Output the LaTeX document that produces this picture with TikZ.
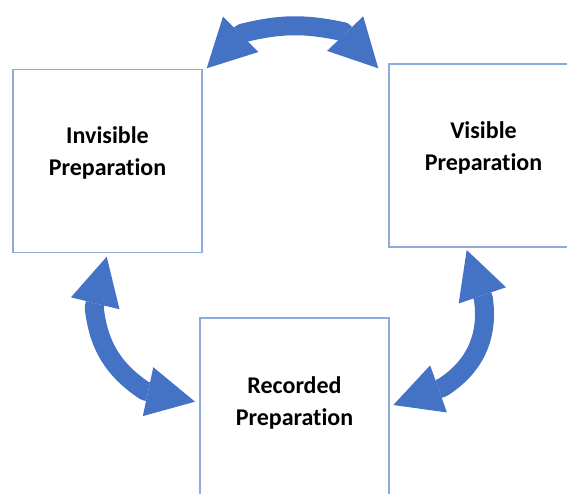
\documentclass[tikz,border=0pt]{standalone}
\usepackage{fontspec}
\setmainfont{Carlito}[Ligatures=NoCommon]
\usetikzlibrary{arrows.meta, positioning}

\definecolor{boxline}{RGB}{143,170,220}
\definecolor{arrowblue}{RGB}{68,114,196}

\tikzset{
  prepbox/.style={draw=boxline, line width=1.2pt, minimum width=189pt, minimum height=183pt, inner sep=0pt},
  preptext/.style={font=\fontsize{24}{32}\selectfont\bfseries, align=center},
  cyclearrow/.style={draw=arrowblue, line width=19pt, line join=round,
    {Triangle[length=48pt, width=50pt, line width=0pt]}-{Triangle[length=48pt, width=50pt, line width=0pt]}},
}

\begin{document}
\begin{tikzpicture}[x=1pt, y=1pt]
	\useasboundingbox (0,0) rectangle (567,493);
	
	% Boxes
	\node[prepbox] (inv) at (107.5,332) {};
	\node[prepbox] (vis) at (483.5,337.5) {};
	\node[prepbox, minimum height=185pt] (rec) at (294.5,82.5) {};
	
	% Labels
	\node[preptext] (inv-text) at ([yshift=8pt]inv.center) {Invisible\\Preparation};
	\node[preptext] (vis-text) at ([yshift=8pt]vis.center) {Visible\\Preparation};
	\node[preptext] (rec-text) at ([yshift=8pt]rec.center) {Recorded\\Preparation};
	
	% Arrow tips and shaft ends
	\coordinate (top-l) at (206.7,424.7);
	\coordinate (top-lb) at (241.7,459.7);
	\coordinate (top-rb) at (343.3,461.3);
	\coordinate (top-r) at (378.3,424.7);
	\coordinate (left-t) at (106.7,236.3);
	\coordinate (left-tb) at (94.2,185.5);
	\coordinate (left-bb) at (145,102);
	\coordinate (left-b) at (195,91.3);
	\coordinate (right-t) at (466.7,243);
	\coordinate (right-tb) at (483.3,194.7);
	\coordinate (right-bb) at (442.5,105.5);
	\coordinate (right-b) at (393.3,88);
	
	% Arrows
	\draw[cyclearrow] (top-l) -- (top-lb) to[bend left=13] (top-rb) -- (top-r);
	\draw[cyclearrow] (left-t) -- (left-tb) to[bend right=25] (left-bb) -- (left-b);
	\draw[cyclearrow] (right-t) -- (right-tb) to[bend left=33] (right-bb) -- (right-b);
	
\end{tikzpicture}
\end{document}
